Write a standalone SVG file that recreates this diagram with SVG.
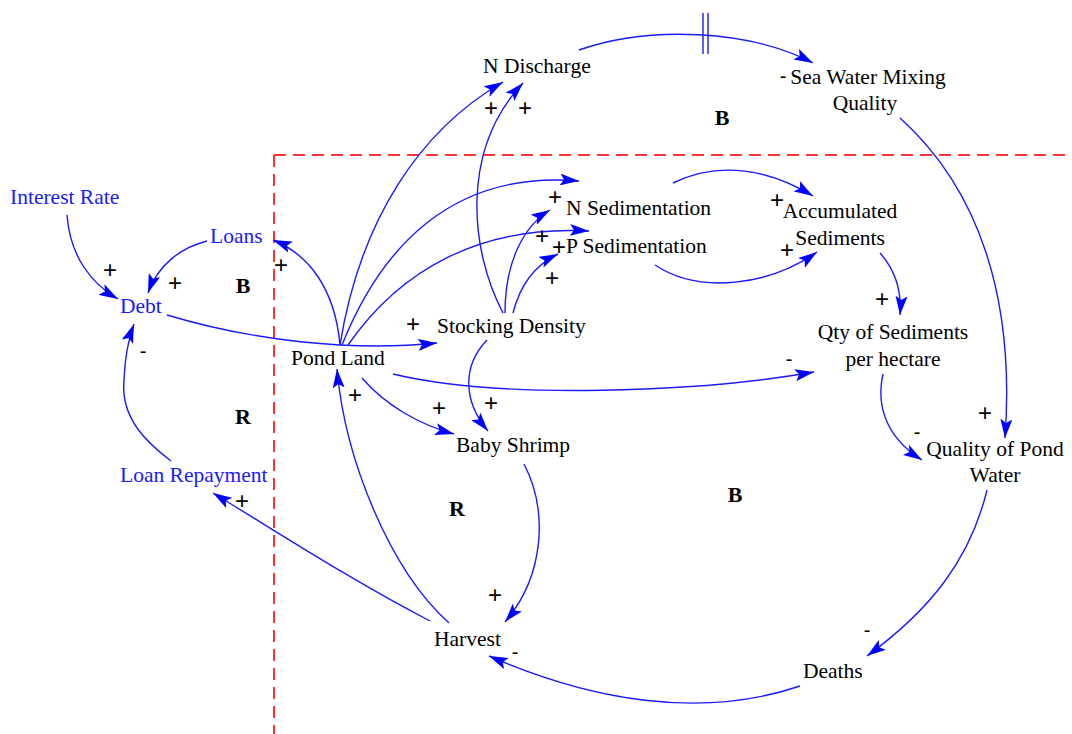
<svg xmlns="http://www.w3.org/2000/svg" width="1072" height="734" viewBox="0 0 1072 734">
<style>
.n{font-family:"Liberation Serif","Times New Roman",serif;font-size:21.5px;fill:#000}
.bl{fill:#1a1aff}
.p{font-family:"Liberation Sans",Arial,sans-serif;font-size:24px;fill:#000;text-anchor:middle}
.m{font-family:"Liberation Sans",Arial,sans-serif;font-size:20px;fill:#000;text-anchor:middle}
.loop{font-family:"Liberation Serif","Times New Roman",serif;font-size:22px;font-weight:bold;fill:#000}
.c{fill:none;stroke:#1a1aff;stroke-width:1.4;marker-end:url(#ah)}
.d{fill:none;stroke:#1a1aff;stroke-width:1.4}
</style>
<defs>
<marker id="ah" markerUnits="userSpaceOnUse" markerWidth="20" markerHeight="12" refX="19" refY="6" orient="auto">
<path d="M0,0 L19,6 L0,12 L4,6 z" fill="#0000ff"/>
</marker>
</defs>
<rect width="1072" height="734" fill="#fff"/>
<g id="boundary" fill="none" stroke="#ff3333" stroke-width="2" stroke-dasharray="12,7">
<path d="M274,155 H1072"/>
<path d="M274,155 V734"/>
</g>
<g id="connectors">
<path class="c" d="M67,215 C70,255 90,283 118,299"/>
<path class="c" d="M207,241 C180,248 158,265 148,293"/>
<path class="c" d="M340,345 C335,290 310,255 273,240"/>
<path class="c" d="M167,315 C250,340 350,352 437,343"/>
<path class="c" d="M340,345 C360,220 420,130 503,82"/>
<path class="c" d="M503,313 C470,250 460,150 523,83"/>
<path class="c" d="M342,345 C380,250 450,170 579,181"/>
<path class="c" d="M348,345 C400,270 480,225 589,231"/>
<path class="c" d="M505,313 C505,260 525,225 550,210"/>
<path class="c" d="M513,313 C520,285 535,265 558,254"/>
<path class="c" d="M673,183 C720,160 770,170 813,196"/>
<path class="c" d="M655,265 C700,295 770,285 817,252"/>
<path class="c" d="M880,253 C895,270 902,290 900,315"/>
<path class="c" d="M393,374 C500,400 700,392 814,372"/>
<path class="c" d="M487,340 C463,365 462,400 488,431"/>
<path class="c" d="M362,378 C385,405 420,425 454,434"/>
<path class="c" d="M524,464 C548,510 545,575 505,622"/>
<path class="c" d="M449,623 C390,570 345,460 337,369"/>
<path class="c" d="M430,621 C360,585 290,540 213,493"/>
<path class="c" d="M171,461 C150,445 120,420 124,380 C125,355 128,340 134,324"/>
<path class="c" d="M579,50 C650,25 750,30 813,63"/>
<path class="d" d="M703,13 V54 M708,13 V54"/>
<path class="c" d="M900,118 C980,190 1015,300 1005,438"/>
<path class="c" d="M883,374 C875,410 890,440 922,460"/>
<path class="c" d="M987,490 C970,560 930,610 867,656"/>
<path class="c" d="M800,686 C700,720 590,700 489,656"/>
</g>
<g id="polarities">
<text class="p" x="110" y="278">+</text>
<text class="p" x="175" y="291">+</text>
<text class="p" x="281" y="273">+</text>
<text class="p" x="413" y="332">+</text>
<text class="p" x="491" y="116">+</text>
<text class="p" x="525" y="116">+</text>
<text class="p" x="555" y="205">+</text>
<text class="p" x="542" y="244">+</text>
<text class="p" x="559" y="255">+</text>
<text class="p" x="552" y="286">+</text>
<text class="p" x="777" y="208">+</text>
<text class="p" x="787" y="258">+</text>
<text class="p" x="882" y="307">+</text>
<text class="m" x="789" y="366">-</text>
<text class="p" x="491" y="411">+</text>
<text class="p" x="439" y="416">+</text>
<text class="p" x="495" y="603">+</text>
<text class="p" x="355" y="403">+</text>
<text class="p" x="242" y="509">+</text>
<text class="m" x="143" y="358">-</text>
<text class="m" x="783" y="83">-</text>
<text class="p" x="985" y="421">+</text>
<text class="m" x="917" y="439">-</text>
<text class="m" x="867" y="637">-</text>
<text class="m" x="515" y="659">-</text>
</g>
<g id="loops">
<text class="loop" x="722" y="125" text-anchor="middle">B</text>
<text class="loop" x="243" y="293" text-anchor="middle">B</text>
<text class="loop" x="243" y="424" text-anchor="middle">R</text>
<text class="loop" x="457" y="516" text-anchor="middle">R</text>
<text class="loop" x="735" y="502" text-anchor="middle">B</text>
</g>
<g id="interest-rate"><text class="n bl" x="10" y="204">Interest Rate</text></g>
<g id="loans"><text class="n bl" x="210" y="243">Loans</text></g>
<g id="debt"><text class="n bl" x="120" y="313">Debt</text></g>
<g id="loan-repayment"><text class="n bl" x="120" y="482">Loan Repayment</text></g>
<g id="pond-land"><text class="n" x="291" y="365">Pond Land</text></g>
<g id="stocking-density"><text class="n" x="437" y="333">Stocking Density</text></g>
<g id="n-sedimentation"><text class="n" x="566" y="215">N Sedimentation</text></g>
<g id="p-sedimentation"><text class="n" x="566" y="253">P Sedimentation</text></g>
<g id="accumulated-sediments"><text class="n" x="840" y="218" text-anchor="middle">Accumulated</text><text class="n" x="840" y="245" text-anchor="middle">Sediments</text></g>
<g id="n-discharge"><text class="n" x="483" y="73">N Discharge</text></g>
<g id="sea-water"><text class="n" x="868" y="84" text-anchor="middle">Sea Water Mixing</text><text class="n" x="865" y="110" text-anchor="middle">Quality</text></g>
<g id="qty-sediments"><text class="n" x="893" y="339" text-anchor="middle">Qty of Sediments</text><text class="n" x="893" y="366" text-anchor="middle">per hectare</text></g>
<g id="quality-pond"><text class="n" x="995" y="456" text-anchor="middle">Quality of Pond</text><text class="n" x="995" y="482" text-anchor="middle">Water</text></g>
<g id="baby-shrimp"><text class="n" x="456" y="452">Baby Shrimp</text></g>
<g id="harvest"><text class="n" x="434" y="646">Harvest</text></g>
<g id="deaths"><text class="n" x="803" y="678">Deaths</text></g>
</svg>
